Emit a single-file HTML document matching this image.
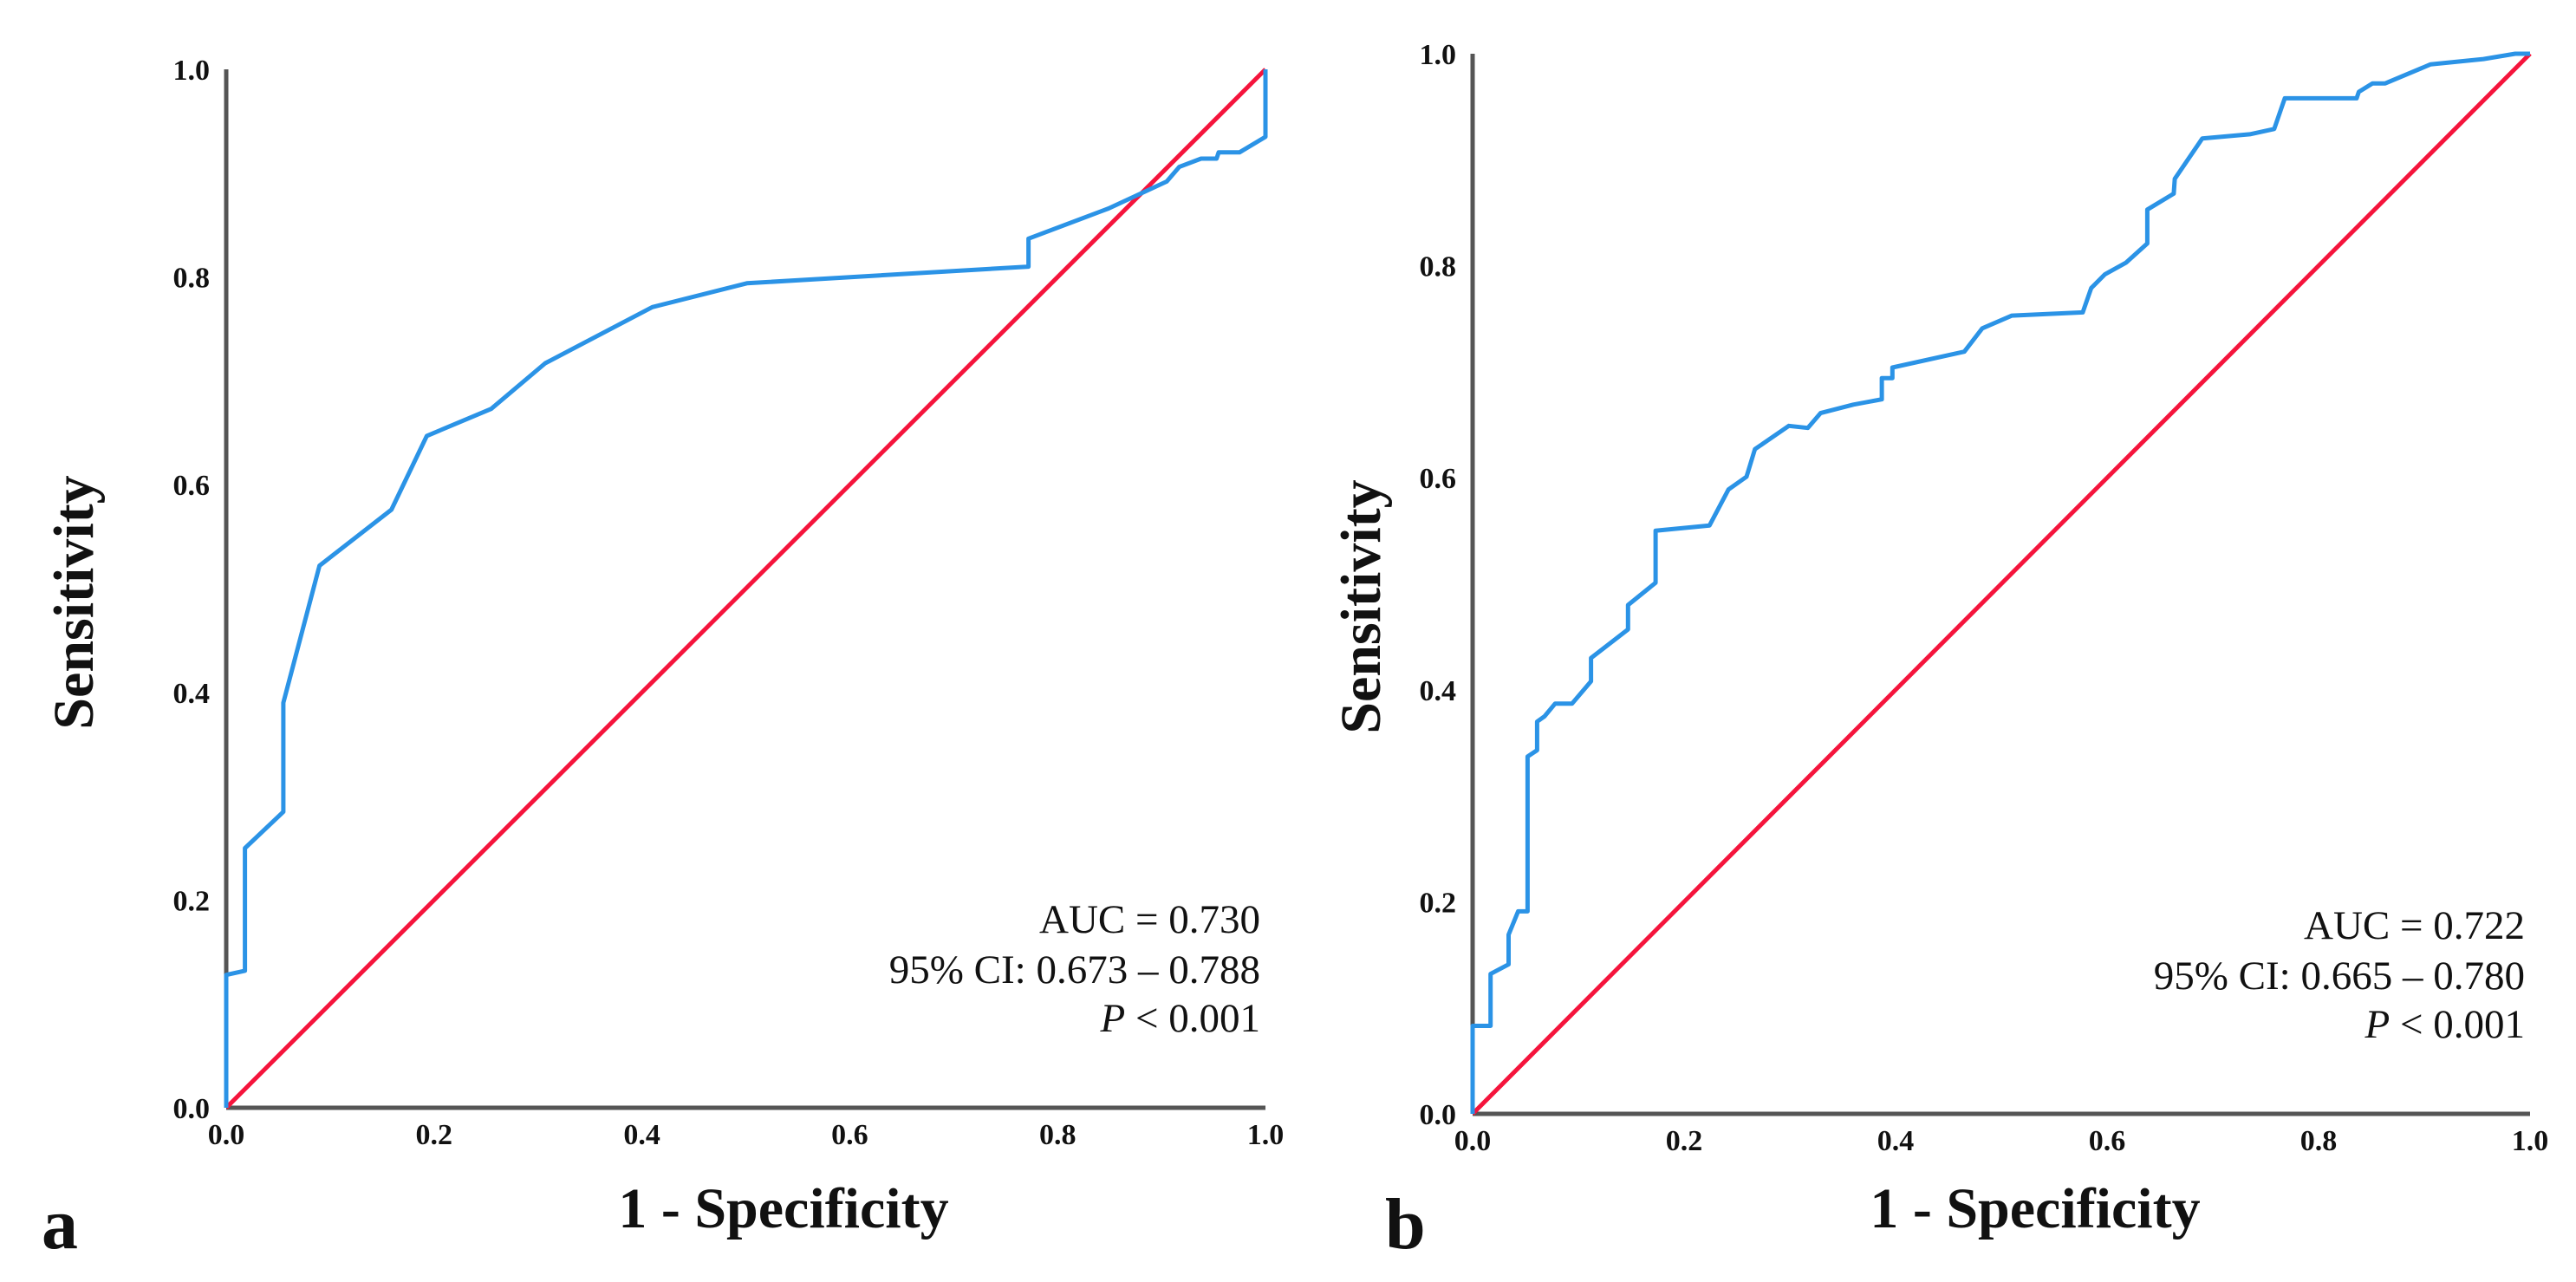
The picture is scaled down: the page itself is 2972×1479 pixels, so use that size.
<!DOCTYPE html>
<html><head><meta charset="utf-8">
<style>
html,body{margin:0;padding:0;background:#fff;}
svg{display:block;}
text{font-family:"Liberation Serif",serif;}
</style></head>
<body>
<svg id="chart" width="2972" height="1479" viewBox="0 0 2972 1479" xmlns="http://www.w3.org/2000/svg"></svg>
<script>
// Panel a data (1 - specificity, sensitivity)
const aFpr = [0,0,0.018,0.018,0.055,0.055,0.0897,0.159,0.193,0.255,0.307,0.41,0.501,0.772,0.772,0.849,0.905,0.917,0.938,0.953,0.955,0.975,1.0,1.0];
const aTpr = [0,0.128,0.132,0.25,0.285,0.39,0.522,0.576,0.647,0.673,0.717,0.771,0.794,0.81,0.837,0.866,0.892,0.906,0.914,0.914,0.920,0.920,0.935,1.0];
// Panel b data
const bFpr = [0,0,0.017,0.017,0.034,0.034,0.043,0.052,0.052,0.061,0.061,0.068,0.078,0.094,0.112,0.112,0.147,0.147,0.173,0.173,0.224,0.242,0.259,0.267,0.299,0.317,0.329,0.360,0.387,0.387,0.397,0.397,0.465,0.482,0.510,0.577,0.585,0.598,0.618,0.638,0.638,0.663,0.664,0.690,0.735,0.758,0.768,0.836,0.838,0.851,0.863,0.906,0.956,0.986,1.0];
const bTpr = [0,0.083,0.083,0.132,0.141,0.169,0.191,0.191,0.337,0.343,0.370,0.375,0.387,0.387,0.408,0.430,0.457,0.480,0.501,0.550,0.555,0.589,0.601,0.627,0.649,0.647,0.661,0.669,0.674,0.694,0.694,0.704,0.719,0.741,0.753,0.756,0.779,0.792,0.803,0.821,0.853,0.868,0.882,0.920,0.924,0.929,0.958,0.958,0.964,0.972,0.972,0.990,0.995,1.0,1.0];
const tickVals = [0,0.2,0.4,0.6,0.8,1.0];
const tickLabels = ["0.0","0.2","0.4","0.6","0.8","1.0"];
const panelLetters = ["a","b"];
const aucLines = [["AUC = 0.730","95% CI: 0.673 \u2013 0.788"],["AUC = 0.722","95% CI: 0.665 \u2013 0.780"]];

const NS="http://www.w3.org/2000/svg";
const svg=document.getElementById('chart');
function mk(tag,attrs,parent){const e=document.createElementNS(NS,tag);for(const k in attrs)e.setAttribute(k,attrs[k]);(parent||svg).appendChild(e);return e;}

const panels=[
 {x0:261,x1:1460,y0:1278,y1:80,fpr:aFpr,tpr:aTpr,titleX:904,sensX:85,sensY:695,letterX:48},
 {x0:1699,x1:2919,y0:1285,y1:62,fpr:bFpr,tpr:bTpr,titleX:2348,sensX:1570,sensY:700,letterX:1598}
];

panels.forEach((p,i)=>{
  const g=mk('g',{});
  
  
  const sx=v=>p.x0+v*(p.x1-p.x0);
  const sy=v=>p.y0-v*(p.y0-p.y1);
  const ya=mk('line',{x1:p.x0,y1:p.y0,x2:p.x0,y2:p.y1,stroke:'#555',"stroke-width":5},g);
  
  
  const xa=mk('line',{x1:p.x0,y1:p.y0,x2:p.x1,y2:p.y0,stroke:'#555',"stroke-width":5},g);
  
  
  tickVals.forEach((v,j)=>{
    const yt=mk('text',{x:p.x0-19,y:sy(v)+12,"text-anchor":"end","font-size":34,"font-weight":"bold",fill:'#111'},g);
    yt.textContent=tickLabels[j];
    
    
    const xt=mk('text',{x:sx(v),y:p.y0+42,"text-anchor":"middle","font-size":34,"font-weight":"bold",fill:'#111'},g);
    xt.textContent=tickLabels[j];
    
    
  });
  const ref=mk('line',{x1:sx(0),y1:sy(0),x2:sx(1),y2:sy(1),stroke:'#f5143c',"stroke-width":5},g);
  
  
  const pts=p.fpr.map((f,k)=>sx(f).toFixed(1)+','+sy(p.tpr[k]).toFixed(1)).join(' ');
  const roc=mk('polyline',{points:pts,fill:'none',stroke:'#2b93e6',"stroke-width":5,"stroke-linejoin":"round"},g);
  
  
  const rx=p.x1-6;
  const by=p.y0-202;
  const t1=mk('text',{x:rx,y:by,"text-anchor":"end","font-size":47,fill:'#111'},g);
  t1.textContent=aucLines[i][0];
  
  
  const t2=mk('text',{x:rx,y:by+58,"text-anchor":"end","font-size":47,fill:'#111'},g);
  t2.textContent=aucLines[i][1];
  
  
  const t3=mk('text',{x:rx,y:by+114,"text-anchor":"end","font-size":47,fill:'#111'},g);
  t3.innerHTML='<tspan font-style="italic">P</tspan> &lt; 0.001';
  
  
  const xtitle=mk('text',{x:p.titleX,y:1416,"text-anchor":"middle","font-size":66,"font-weight":"bold",fill:'#111'},g);
  xtitle.textContent='1 - Specificity';
  
  
  const ytitle=mk('text',{x:0,y:0,"text-anchor":"middle","font-size":66,"font-weight":"bold",fill:'#111',transform:`translate(${p.sensX+22},${p.sensY}) rotate(-90)`},g);
  ytitle.textContent='Sensitivity';
  
  
  const letter=mk('text',{x:p.letterX,y:1440,"font-size":84,"font-weight":"bold",fill:'#111'},g);
  letter.textContent=panelLetters[i];
  
  
});
</script>
</body></html>
